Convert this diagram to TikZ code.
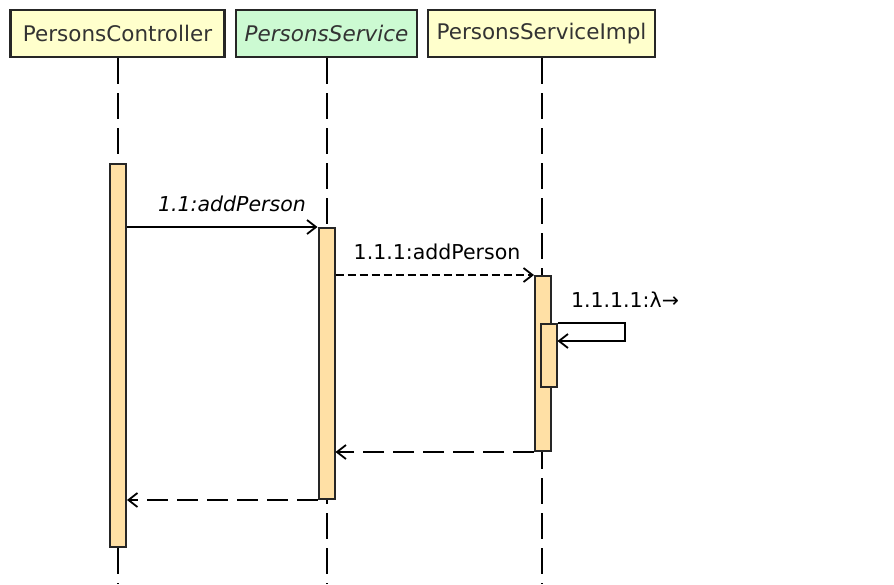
\documentclass[tikz,border=0pt]{standalone}
\usepackage{fontspec}
\setmainfont{DejaVu Sans}
\usepackage{tikz}
\usetikzlibrary{arrows.meta}
\definecolor{headyellow}{RGB}{255,255,204}
\definecolor{headgreen}{RGB}{204,250,210}
\definecolor{actfill}{RGB}{255,224,165}
\tikzstyle{head} = [draw=black!85,line width=2.2,minimum height=47,inner sep=0pt,text=black!80,font=\fontsize{21.5}{24}\selectfont]
\tikzstyle{life} = [line width=2,dash pattern=on 26pt off 9pt]
\tikzstyle{act} = [draw=black!85,fill=actfill,line width=2,minimum width=16,inner sep=0pt]
\tikzstyle{msg} = [line width=1.8,-{Straight Barb[length=9pt,width=14pt,line width=1.8]}]
\tikzstyle{call} = [dash pattern=on 8pt off 4pt]
\tikzstyle{ret} = [dash pattern=on 21pt off 9pt]

\begin{document}
\begin{tikzpicture}[x=1pt,y=-1pt,every node/.style={font=\fontsize{20.5}{24}\selectfont}]
\useasboundingbox (0,0) rectangle (894,584);

% --- heads ---
\node[head,fill=headyellow,minimum width=214] (ctrl) at (117.5,33.5) {PersonsController};
\node[head,fill=headgreen,minimum width=181] (svc) at (326.5,33.5) {\itshape PersonsService};
\node[head,fill=headyellow,minimum width=227] (impl) at (541.5,33.5) {PersonsServiceImpl};

% lifelines
\foreach \n in {ctrl,svc,impl} {
  \draw[life] (\n.south) -- (\n.south |- 0,584);
}

% --- activations ---
\node[act,minimum height=383] (ca) at (118,355.5) {};
\node[act,minimum height=271] (sa) at (326.5,363.5) {};
\node[act,minimum height=175] (ia) at (543,363.5) {};
\node[act,minimum height=63] (ib) at (548.5,355.5) {};

% --- messages ---
\draw[msg] (ca.east |- sa.north) -- (sa.north west);
\node (m1) at (232,204) {\itshape 1.1:addPerson};

\draw[msg,call] (sa.east |- ia.north) -- (ia.north west);
\node (m2) at (437,252) {1.1.1:addPerson};

% self call
\coordinate (selfr) at (625,341);
\draw[msg] (ib.north east) -| (selfr) -- (ib.east |- selfr);
\node (m3) at (625,300) {1.1.1.1:λ→};

% returns
\draw[msg,ret] (ia.south west) -- (sa.east |- ia.south west);
\draw[msg,ret] (sa.south west) -- (ca.east |- sa.south west);

\end{tikzpicture}
\end{document}
